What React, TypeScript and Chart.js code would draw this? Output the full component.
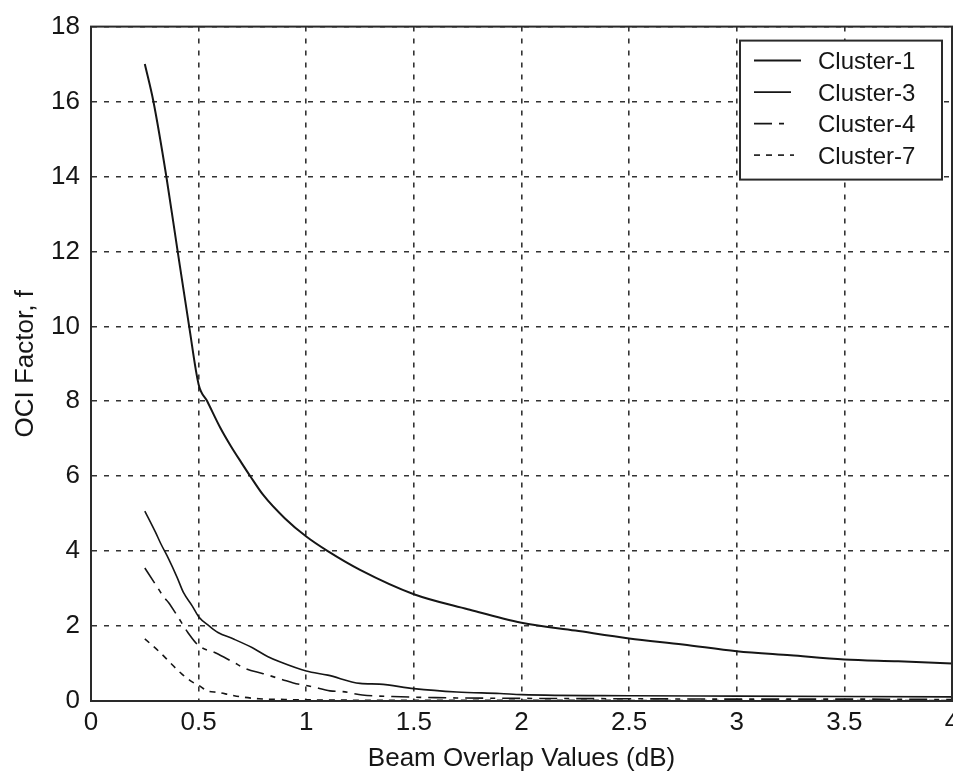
import React, { useEffect, useRef } from "react";
import { Chart, registerables } from "chart.js";

Chart.register(...registerables);

// ---- Data ----
const seriesLabels = ["Cluster-1", "Cluster-3", "Cluster-4", "Cluster-7"];

const xTickValues = [0, 0.5, 1, 1.5, 2, 2.5, 3, 3.5, 4];
const xTickLabels = ["0", "0.5", "1", "1.5", "2", "2.5", "3", "3.5", "4"];
const yTickValues = [0, 2, 4, 6, 8, 10, 12, 14, 16, 18];
const yTickLabels = ["0", "2", "4", "6", "8", "10", "12", "14", "16", "18"];

const cluster1X = [0.25, 0.29, 0.35, 0.4, 0.456, 0.5, 0.54, 0.6, 0.65, 0.7, 0.74, 0.8, 0.9, 1.0, 1.1, 1.25, 1.5, 1.75, 2.0, 2.25, 2.5, 2.75, 3.0, 3.25, 3.5, 3.75, 4.0];
const cluster1Y = [17.0, 16.0, 14.0, 12.1, 10.0, 8.45, 8.0, 7.3, 6.8, 6.35, 6.0, 5.5, 4.88, 4.39, 4.0, 3.5, 2.85, 2.45, 2.09, 1.88, 1.67, 1.51, 1.33, 1.22, 1.11, 1.06, 1.0];

const cluster3X = [0.25, 0.3, 0.325, 0.36, 0.4, 0.43, 0.47, 0.5, 0.55, 0.59, 0.66, 0.75, 0.82, 0.88, 1.0, 1.1, 1.25, 1.34, 1.5, 1.7, 1.9, 2.0, 2.5, 3.0, 3.5, 4.0];
const cluster3Y = [5.07, 4.5, 4.19, 3.8, 3.3, 2.89, 2.54, 2.25, 2.0, 1.83, 1.66, 1.42, 1.19, 1.04, 0.8, 0.69, 0.47, 0.45, 0.33, 0.24, 0.2, 0.17, 0.14, 0.13, 0.12, 0.11];

const cluster4X = [0.25, 0.3, 0.34, 0.36, 0.4, 0.45, 0.5, 0.58, 0.66, 0.72, 0.8, 0.89, 0.94, 1.03, 1.11, 1.17, 1.26, 1.4, 1.6, 2.0, 2.5, 3.0, 3.5, 4.0];
const cluster4Y = [3.55, 3.11, 2.76, 2.63, 2.28, 1.83, 1.48, 1.28, 1.04, 0.86, 0.73, 0.57, 0.48, 0.38, 0.27, 0.25, 0.16, 0.12, 0.09, 0.07, 0.06, 0.05, 0.05, 0.04];

const cluster7X = [0.25, 0.32, 0.37, 0.42, 0.47, 0.5, 0.54, 0.59, 0.65, 0.71, 0.78, 0.9, 1.0, 1.5, 2.0, 3.0, 4.0];
const cluster7Y = [1.66, 1.3, 1.01, 0.73, 0.51, 0.42, 0.27, 0.23, 0.16, 0.1, 0.06, 0.04, 0.03, 0.02, 0.02, 0.01, 0.01];

const xTitle = "Beam Overlap Values (dB)";
const yTitle = "OCI Factor, f";

// ---- Styling ----
const FONT = '"Liberation Sans", Arial, Helvetica, sans-serif';
const INK = "#161616";

const toPoints = (xs: number[], ys: number[]) => xs.map((x, i) => ({ x, y: ys[i] }));

const framePlugin = {
  id: "frameAndLegend",
  afterDatasetsDraw(chart: any) {
    const { ctx, chartArea } = chart;
    ctx.save();
    ctx.setLineDash([]);
    ctx.lineWidth = 2;
    ctx.strokeStyle = "#2a2a2a";
    ctx.strokeRect(chartArea.left, chartArea.top, chartArea.right - chartArea.left, chartArea.bottom - chartArea.top);

    const boxW = 202;
    const boxH = 139;
    const bx = chartArea.right - 212;
    const by = chartArea.top + 14;
    ctx.fillStyle = "#ffffff";
    ctx.fillRect(bx, by, boxW, boxH);
    ctx.lineWidth = 2;
    ctx.strokeStyle = "#2a2a2a";
    ctx.strokeRect(bx, by, boxW, boxH);

    const sampleLens = [47, 37, 36, 40];
    chart.data.datasets.forEach((ds: any, i: number) => {
      const y = by + 20 + i * 31.5;
      ctx.setLineDash(ds.borderDash || []);
      ctx.lineWidth = ds.borderWidth;
      ctx.strokeStyle = ds.borderColor;
      ctx.beginPath();
      ctx.moveTo(bx + 14, y);
      ctx.lineTo(bx + 14 + sampleLens[i], y);
      ctx.stroke();
      ctx.setLineDash([]);
      ctx.fillStyle = INK;
      ctx.font = `24px ${FONT}`;
      ctx.textBaseline = "middle";
      ctx.textAlign = "left";
      ctx.fillText(ds.label, bx + 78, y + 2);
    });
    ctx.restore();
  },
};

export default function App() {
  const canvasRef = useRef<HTMLCanvasElement | null>(null);

  useEffect(() => {
    if (!canvasRef.current) return;
    const chart = new Chart(canvasRef.current, {
      type: "line",
      data: {
        datasets: [
          {
            label: seriesLabels[0],
            data: toPoints(cluster1X, cluster1Y),
            borderColor: INK,
            borderWidth: 2,
            borderDash: [],
            pointRadius: 0,
            cubicInterpolationMode: "monotone",
          },
          {
            label: seriesLabels[1],
            data: toPoints(cluster3X, cluster3Y),
            borderColor: INK,
            borderWidth: 1.6,
            borderDash: [],
            pointRadius: 0,
            cubicInterpolationMode: "monotone",
          },
          {
            label: seriesLabels[2],
            data: toPoints(cluster4X, cluster4Y),
            borderColor: INK,
            borderWidth: 1.6,
            borderDash: [18, 7, 5, 7],
            pointRadius: 0,
            cubicInterpolationMode: "monotone",
          },
          {
            label: seriesLabels[3],
            data: toPoints(cluster7X, cluster7Y),
            borderColor: INK,
            borderWidth: 1.6,
            borderDash: [6, 6],
            pointRadius: 0,
            cubicInterpolationMode: "monotone",
          },
        ],
      },
      options: {
        responsive: false,
        animation: false,
        devicePixelRatio: 1,
        layout: { padding: { top: 21, right: 1, left: 0, bottom: 0 } },
        plugins: {
          legend: { display: false },
          tooltip: { enabled: false },
        },
        scales: {
          x: {
            type: "linear",
            min: 0,
            max: 4,
            afterBuildTicks: (s: any) => {
              s.ticks = xTickValues.map((v) => ({ value: v }));
            },
            afterFit: (s: any) => {
              s.height = 74;
              s.paddingLeft = 0;
              s.paddingRight = 0;
            },
            ticks: {
              autoSkip: false,
              maxRotation: 0,
              padding: 6,
              color: INK,
              font: { family: FONT, size: 26 },
              callback: (v: any) => {
                const i = xTickValues.indexOf(Number(v));
                return i >= 0 ? xTickLabels[i] : "";
              },
            },
            grid: {
              color: "#333333",
              lineWidth: 1.6,
              drawTicks: false,
            },
            border: { display: true, color: "#2a2a2a", width: 2, dash: [5, 7] },
            title: {
              display: true,
              text: xTitle,
              color: INK,
              font: { family: FONT, size: 26 },
              padding: { top: 0, bottom: 1 },
            },
          },
          y: {
            type: "linear",
            min: 0,
            max: 18,
            afterBuildTicks: (s: any) => {
              s.ticks = yTickValues.map((v) => ({ value: v }));
            },
            afterFit: (s: any) => {
              s.width = 91;
            },
            ticks: {
              autoSkip: false,
              padding: 11,
              color: INK,
              font: { family: FONT, size: 26 },
              callback: (v: any) => {
                const i = yTickValues.indexOf(Number(v));
                return i >= 0 ? yTickLabels[i] : "";
              },
            },
            grid: {
              color: "#333333",
              lineWidth: 1.6,
              drawTicks: false,
            },
            border: { display: true, color: "#2a2a2a", width: 2, dash: [5, 7] },
            title: {
              display: true,
              text: yTitle,
              color: INK,
              font: { family: FONT, size: 26 },
              padding: { top: 10, bottom: 0 },
            },
          },
        },
      },
      plugins: [framePlugin],
    } as any);
    return () => chart.destroy();
  }, []);

  return (
    <div style={{ position: "fixed", left: 0, top: 0, width: 953, height: 775, background: "#fff" }}>
      <canvas ref={canvasRef} width={953} height={775} style={{ width: 953, height: 775, display: "block" }} />
    </div>
  );
}
